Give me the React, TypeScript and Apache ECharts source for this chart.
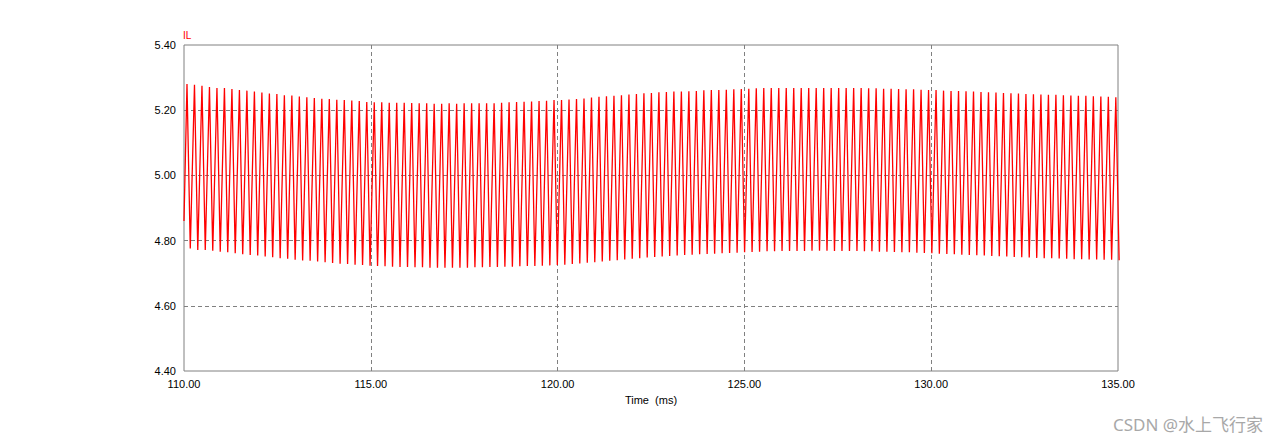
import React, { useEffect, useRef } from "react";
import * as echarts from "echarts";

// Time axis (ms)
const X_MIN = 110;
const X_MAX = 135;
const X_TICKS = [110, 115, 120, 125, 130, 135];
const Y_TICKS = [4.4, 4.6, 4.8, 5.0, 5.2, 5.4];

// Displayed ripple cycles: first peak time, cycle period, trough lag (ms)
const FIRST_PEAK_MS = 110.08;
const CYCLE_MS = 0.2005;
const TROUGH_LAG_MS = 0.088;
const START_VALUE = 4.86;

// Peak values (A) of each displayed cycle
const peaks = [
  5.280, 5.278, 5.275, 5.271, 5.268, 5.268, 5.265, 5.262, 5.260, 5.257, 5.254, 5.251, 5.250, 5.246, 5.245, 5.242, 5.240, 5.237, 5.235, 5.234, 5.232, 5.231, 5.230, 5.228, 5.225,
  5.224, 5.224, 5.223, 5.223, 5.223, 5.222, 5.221, 5.221, 5.220, 5.220, 5.221, 5.220, 5.221, 5.221, 5.221, 5.221, 5.221, 5.223, 5.224, 5.225, 5.226, 5.227, 5.228, 5.229, 5.231,
  5.231, 5.233, 5.234, 5.236, 5.239, 5.241, 5.243, 5.244, 5.246, 5.248, 5.250, 5.252, 5.253, 5.255, 5.256, 5.257, 5.257, 5.258, 5.259, 5.261, 5.262, 5.262, 5.263, 5.264, 5.265,
  5.266, 5.267, 5.268, 5.268, 5.268, 5.268, 5.268, 5.268, 5.268, 5.268, 5.268, 5.268, 5.268, 5.268, 5.268, 5.268, 5.267, 5.267, 5.266, 5.266, 5.265, 5.264, 5.264, 5.263, 5.262,
  5.262, 5.260, 5.259, 5.259, 5.258, 5.257, 5.256, 5.255, 5.254, 5.253, 5.252, 5.251, 5.250, 5.249, 5.248, 5.247, 5.247, 5.246, 5.245, 5.244, 5.244, 5.243, 5.242, 5.241, 5.240,
];

// Trough values (A) of each displayed cycle
const troughs = [
  4.776, 4.771, 4.771, 4.769, 4.766, 4.764, 4.761, 4.758, 4.756, 4.754, 4.751, 4.749, 4.746, 4.744, 4.741, 4.739, 4.738, 4.736, 4.734, 4.731, 4.729, 4.728, 4.726, 4.725, 4.723,
  4.722, 4.721, 4.720, 4.719, 4.719, 4.718, 4.718, 4.717, 4.717, 4.717, 4.717, 4.717, 4.717, 4.718, 4.718, 4.719, 4.719, 4.720, 4.720, 4.721, 4.722, 4.722, 4.723, 4.724, 4.725,
  4.726, 4.728, 4.730, 4.732, 4.734, 4.736, 4.738, 4.740, 4.742, 4.744, 4.746, 4.748, 4.750, 4.751, 4.753, 4.754, 4.756, 4.757, 4.758, 4.759, 4.760, 4.761, 4.762, 4.763, 4.764,
  4.765, 4.766, 4.767, 4.767, 4.768, 4.768, 4.768, 4.768, 4.769, 4.769, 4.769, 4.768, 4.768, 4.768, 4.768, 4.767, 4.767, 4.766, 4.766, 4.765, 4.764, 4.764, 4.763, 4.762, 4.761,
  4.760, 4.759, 4.758, 4.757, 4.756, 4.755, 4.754, 4.753, 4.752, 4.751, 4.750, 4.749, 4.748, 4.747, 4.746, 4.746, 4.745, 4.744, 4.743, 4.743, 4.742, 4.742, 4.741, 4.741, 4.740,
];

const FONT = "'Liberation Sans', Arial, sans-serif";

function buildSeries(): [number, number][] {
  const pts: [number, number][] = [[X_MIN, START_VALUE]];
  for (let i = 0; i < peaks.length; i++) {
    const tp = FIRST_PEAK_MS + i * CYCLE_MS;
    pts.push([tp, peaks[i]]);
    pts.push([tp + TROUGH_LAG_MS, troughs[i]]);
  }
  return pts;
}

export default function App() {
  const ref = useRef<HTMLDivElement>(null);
  useEffect(() => {
    if (!ref.current) return;
    const chart = echarts.init(ref.current, undefined, { renderer: "svg" });
    const dashed = {
      show: true,
      showMinLine: false,
      showMaxLine: false,
      lineStyle: { color: "#808080", type: [4, 3] as any, width: 1 },
    };
    chart.setOption({
      animation: false,
      backgroundColor: "#ffffff",
      grid: {
        left: 184,
        right: 160,
        top: 45,
        bottom: 74,
        show: true,
        borderColor: "#808080",
        borderWidth: 1,
        backgroundColor: "transparent",
      },
      xAxis: {
        type: "value",
        min: X_MIN,
        max: X_MAX,
        interval: 5,
        axisLine: { show: false },
        axisTick: { show: false },
        splitLine: dashed,
        axisLabel: {
          color: "#000",
          fontFamily: FONT,
          fontSize: 11,
          margin: 7,
          formatter: (v: number) => (X_TICKS.includes(v) ? v.toFixed(2) : ""),
        },
        name: "Time  (ms)",
        nameLocation: "middle",
        nameGap: 23,
        nameTextStyle: { color: "#000", fontFamily: FONT, fontSize: 11 },
      },
      yAxis: {
        type: "value",
        min: 4.4,
        max: 5.4,
        interval: 0.2,
        axisLine: { show: false },
        axisTick: { show: false },
        splitLine: dashed,
        axisLabel: {
          color: "#000",
          fontFamily: FONT,
          fontSize: 11,
          margin: 8,
          formatter: (v: number) => {
            const m = Y_TICKS.find((t) => Math.abs(t - v) < 1e-6);
            return m !== undefined ? m.toFixed(2) : "";
          },
        },
      },
      graphic: [
        {
          type: "text",
          left: 183,
          top: 30,
          style: { text: "IL", fill: "#ff0000", font: `10px ${FONT}` },
        },
        {
          type: "text",
          right: 15,
          top: 416,
          style: {
            text: "CSDN @水上飞行家",
            fill: "#a8a8a8",
            font: "17px 'Noto Sans', 'Noto Sans CJK SC', sans-serif",
          },
        },
      ],
      series: [
        {
          type: "line",
          data: buildSeries(),
          showSymbol: false,
          symbol: "none",
          clip: true,
          lineStyle: { color: "#ff0000", width: 1.3 },
        },
      ],
    });
    return () => chart.dispose();
  }, []);
  return (
    <div
      ref={ref}
      style={{ position: "fixed", left: 0, top: 0, width: 1278, height: 445 }}
    />
  );
}
